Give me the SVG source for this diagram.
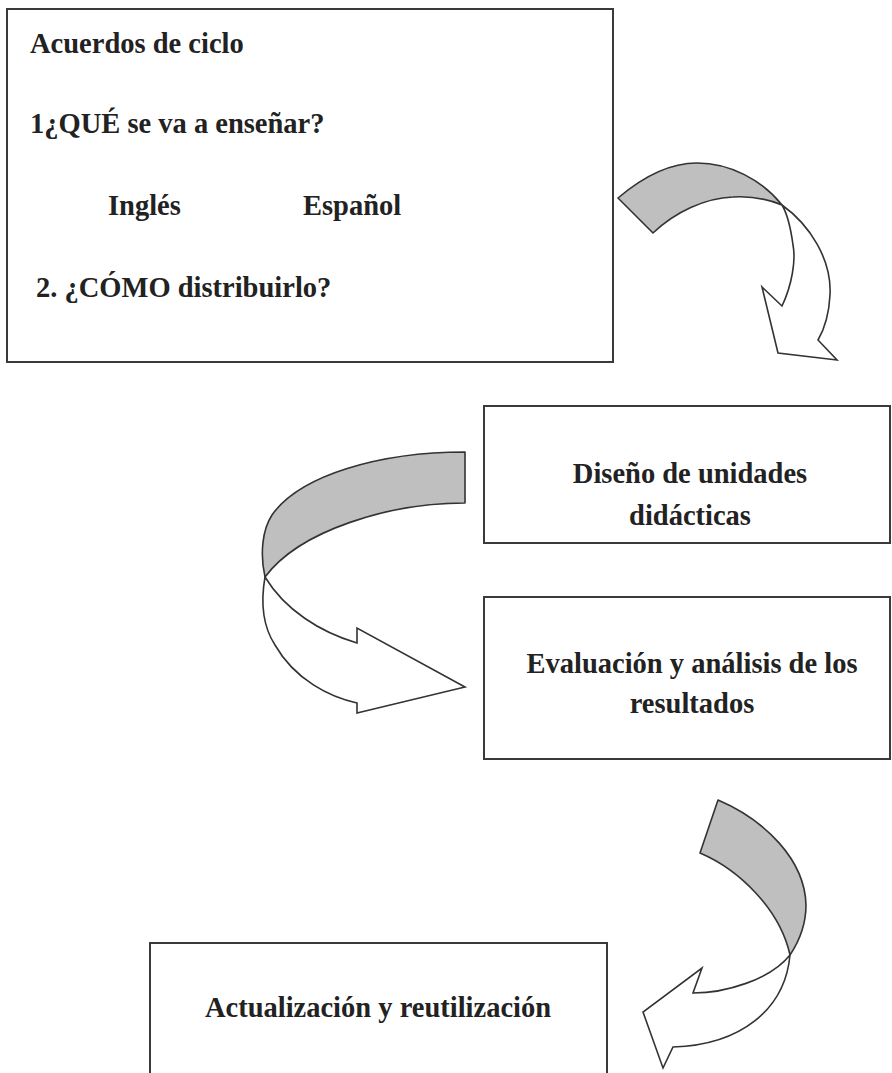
<svg xmlns="http://www.w3.org/2000/svg" width="892" height="1073" viewBox="0 0 892 1073">
<style>
.box{fill:#fff;stroke:#3a3a3a;stroke-width:2}
.t{font-family:"Liberation Serif","Times New Roman",serif;font-weight:bold;font-size:28.5px;fill:#222}
.c{text-anchor:middle}
.band{fill:#bfbfbf;stroke:#333;stroke-width:1.6;stroke-linejoin:round}
.head{fill:#fff;stroke:#333;stroke-width:1.6;stroke-linejoin:miter}
</style>
<rect width="892" height="1073" fill="#fff"/>
<g id="node-acuerdos">
<rect class="box" x="7" y="9" width="606" height="353"/>
<text class="t" x="30" y="53">Acuerdos de ciclo</text>
<text class="t" x="30" y="133">1¿QUÉ se va a enseñar?</text>
<text class="t" x="108" y="215">Inglés</text>
<text class="t" x="303" y="215">Español</text>
<text class="t" x="36" y="297">2. ¿CÓMO distribuirlo?</text>
</g>
<g id="node-diseno">
<rect class="box" x="484" y="406" width="406" height="137"/>
<text class="t c" x="690" y="483">Diseño de unidades</text>
<text class="t c" x="690" y="525">didácticas</text>
</g>
<g id="node-evaluacion">
<rect class="box" x="484" y="597" width="406" height="162"/>
<text class="t c" x="692" y="673">Evaluación y análisis de los</text>
<text class="t c" x="692" y="713">resultados</text>
</g>
<g id="node-actualizacion">
<rect class="box" x="150" y="943" width="457" height="140"/>
<text class="t c" x="378" y="1017">Actualización y reutilización</text>
</g>
<g id="connectors">
<g id="arrow-1">
<path class="head" d="M782,205 C810,225 832,260 830,295 C829,315 825,328 818,340 L837,360 L778,353 L762,287 L782,306 C792,285 796,260 793,245 C791,230 788,215 782,205 Z"/>
<path class="band" d="M618,198 C645,175 670,163 697,163 C730,163 762,180 782,205 C765,198 750,196 733,197 C705,198 675,212 653,233 Z"/>
</g>
<g id="arrow-2">
<path class="head" d="M265,577 C261,600 262,625 275,645 C295,680 330,697 357,703 L357,713 L465,687 L357,628 L357,643 C320,632 285,610 265,577 Z"/>
<path class="band" d="M465,452 C380,452 300,475 272,515 C262,530 260,555 265,577 C300,530 390,503 465,503 Z"/>
</g>
<g id="arrow-3">
<path class="head" d="M790,955 C785,1010 740,1045 673,1047 L663,1068 L643,1012 L702,968 L693,993 C725,993 770,980 790,955 Z"/>
<path class="band" d="M718,800 C765,820 805,860 806,905 C806,925 800,940 790,955 C780,910 740,870 700,853 Z"/>
</g>
</g>
</svg>
